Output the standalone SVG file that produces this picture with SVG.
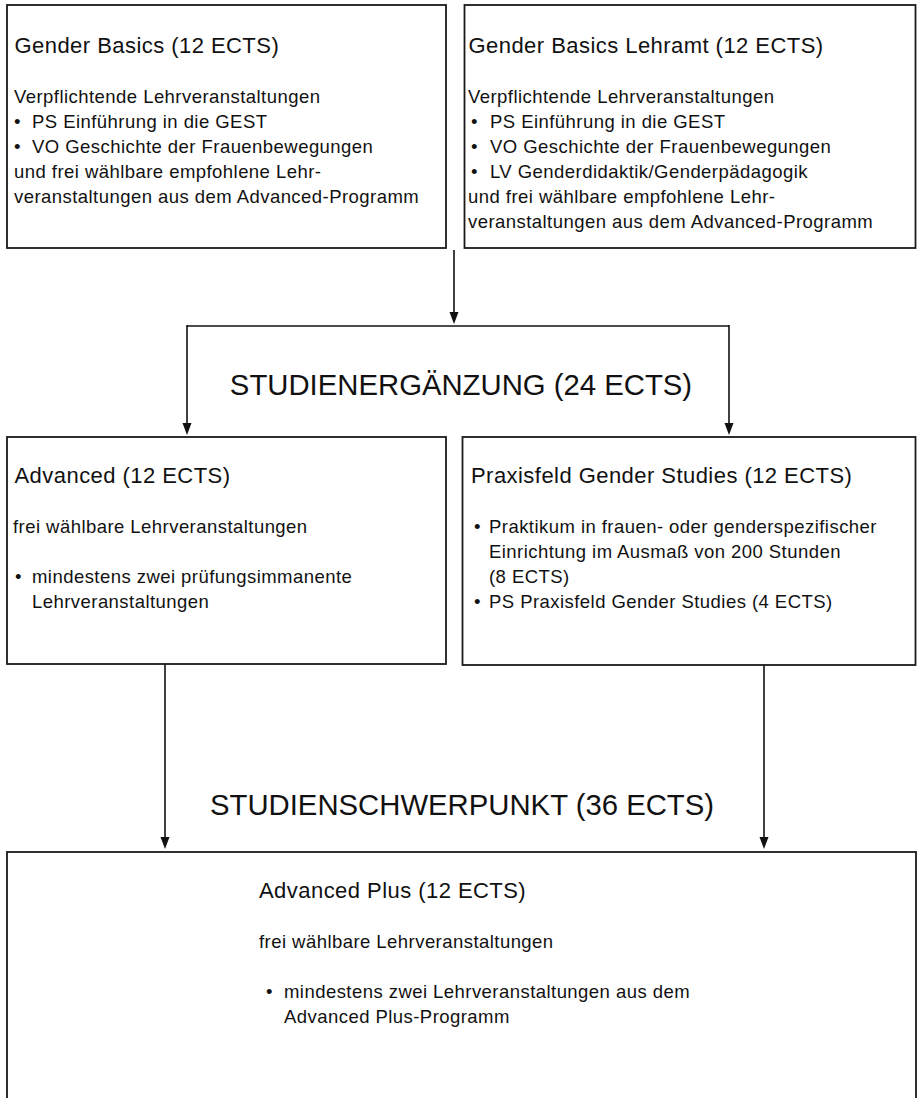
<svg xmlns="http://www.w3.org/2000/svg" width="918" height="1098" viewBox="0 0 918 1098">
<style>
.box{fill:#fff;stroke:#1a1a1a;stroke-width:1.8}
.t{font-family:"Liberation Sans",Arial,sans-serif;font-size:22px;letter-spacing:0.45px;fill:#111}
.b{font-family:"Liberation Sans",Arial,sans-serif;font-size:18.5px;letter-spacing:0.45px;fill:#111}
.h{font-family:"Liberation Sans",Arial,sans-serif;font-size:29.3px;fill:#111;text-anchor:middle}
.c{fill:none;stroke:#111;stroke-width:1.6}
</style>
<defs>
<marker id="ah" markerWidth="8" markerHeight="12" refX="4" refY="11" orient="auto-start-reverse" markerUnits="userSpaceOnUse" viewBox="0 0 8 12">
<path d="M0,0 L8,0 L4,11 Z" fill="#111" transform="rotate(0)"/>
</marker>
</defs>
<rect width="918" height="1098" fill="#fff"/>

<g id="connectors">
<line class="c" x1="454" y1="250" x2="454" y2="313"/>
<path d="M449.5,312 L458.5,312 L454,324 Z" fill="#111"/>
<line class="c" x1="187" y1="326" x2="729" y2="326"/>
<line class="c" x1="187" y1="325" x2="187" y2="424"/>
<path d="M182.5,423 L191.5,423 L187,435 Z" fill="#111"/>
<line class="c" x1="729" y1="325" x2="729" y2="424"/>
<path d="M724.5,423 L733.5,423 L729,435 Z" fill="#111"/>
<line class="c" x1="165" y1="660" x2="165" y2="838"/>
<path d="M160.5,837 L169.5,837 L165,849 Z" fill="#111"/>
<line class="c" x1="764" y1="665" x2="764" y2="838"/>
<path d="M759.5,837 L768.5,837 L764,849 Z" fill="#111"/>
</g>

<g id="gender-basics">
<rect class="box" x="7" y="5" width="439" height="243"/>
<text class="t" x="14.5" y="53">Gender Basics (12 ECTS)</text>
<text class="b" x="14" y="103">Verpflichtende Lehrveranstaltungen</text>
<text class="b" y="128"><tspan x="14">•</tspan><tspan x="32">PS Einführung in die GEST</tspan></text>
<text class="b" y="153"><tspan x="14">•</tspan><tspan x="32">VO Geschichte der Frauenbewegungen</tspan></text>
<text class="b" x="14" y="178">und frei wählbare empfohlene Lehr-</text>
<text class="b" x="14" y="203">veranstaltungen aus dem Advanced-Programm</text>
</g>

<g id="gender-basics-lehramt">
<rect class="box" x="464.5" y="5" width="451" height="243"/>
<text class="t" x="468.5" y="53">Gender Basics Lehramt (12 ECTS)</text>
<text class="b" x="468" y="103">Verpflichtende Lehrveranstaltungen</text>
<text class="b" y="128"><tspan x="471">•</tspan><tspan x="490">PS Einführung in die GEST</tspan></text>
<text class="b" y="153"><tspan x="471">•</tspan><tspan x="490">VO Geschichte der Frauenbewegungen</tspan></text>
<text class="b" y="178"><tspan x="471">•</tspan><tspan x="490">LV Genderdidaktik/Genderpädagogik</tspan></text>
<text class="b" x="468" y="203">und frei wählbare empfohlene Lehr-</text>
<text class="b" x="468" y="228">veranstaltungen aus dem Advanced-Programm</text>
</g>

<g id="studienergaenzung">
<text class="h" x="461" y="395">STUDIENERGÄNZUNG (24 ECTS)</text>
</g>

<g id="advanced">
<rect class="box" x="7" y="437" width="439" height="227"/>
<text class="t" x="14.5" y="483">Advanced (12 ECTS)</text>
<text class="b" x="13" y="533">frei wählbare Lehrveranstaltungen</text>
<text class="b" y="583"><tspan x="15">•</tspan><tspan x="32">mindestens zwei prüfungsimmanente</tspan></text>
<text class="b" x="32" y="608">Lehrveranstaltungen</text>
</g>

<g id="praxisfeld">
<rect class="box" x="462.5" y="437" width="453" height="228"/>
<text class="t" x="471" y="483">Praxisfeld Gender Studies (12 ECTS)</text>
<text class="b" y="533"><tspan x="474">•</tspan><tspan x="489">Praktikum in frauen- oder genderspezifischer</tspan></text>
<text class="b" x="489" y="558">Einrichtung im Ausmaß von 200 Stunden</text>
<text class="b" x="489" y="583">(8 ECTS)</text>
<text class="b" y="608"><tspan x="474">•</tspan><tspan x="489">PS Praxisfeld Gender Studies (4 ECTS)</tspan></text>
</g>

<g id="studienschwerpunkt">
<text class="h" x="462" y="815">STUDIENSCHWERPUNKT (36 ECTS)</text>
</g>

<g id="advanced-plus">
<rect class="box" x="7" y="852" width="909" height="260"/>
<text class="t" x="259" y="898">Advanced Plus (12 ECTS)</text>
<text class="b" x="259" y="948">frei wählbare Lehrveranstaltungen</text>
<text class="b" y="998"><tspan x="266">•</tspan><tspan x="284">mindestens zwei Lehrveranstaltungen aus dem</tspan></text>
<text class="b" x="284" y="1023">Advanced Plus-Programm</text>
</g>
</svg>
